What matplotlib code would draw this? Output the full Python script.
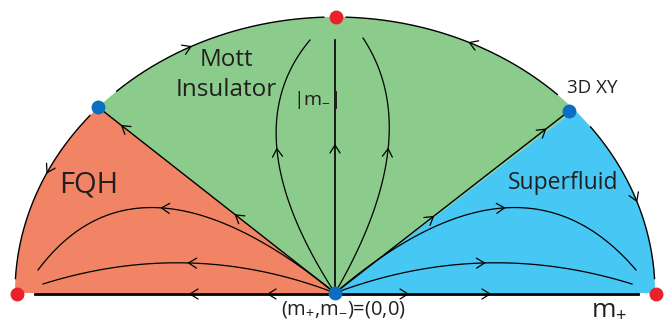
import numpy as np
import matplotlib.pyplot as plt

# geometry of the flow diagram (pixel-like units, y grows downward)
origin = (335, 293)
semi_axes = (320, 276)
red_points = [(17, 294), (336, 17), (656, 294)]
blue_points = [(98, 107), (569, 111)]
blue_angles = [137.7, 41.5]          # ellipse angle of the two 3D XY points

# flow curves: (end point, peak point)
orange_flows = [((38, 270), (163, 208)), ((43, 284), (190, 263))]
blue_flows = [((636, 270), (503, 208)), ((632, 284), (483, 263))]
green_flows = [((310, 40), (277, 150)), ((363, 38), (388, 150))]

# boundary arcs: (start angle, end angle, arrow position along arc, flows toward start?)
arcs = [(177, 140, 0.62, True), (133, 92, 0.4, False), (88, 46, 0.55, True), (37, 3, 0.52, False)]

c_orange = '#F28466'
c_green = '#8BCB8B'
c_blue = '#46C7F4'
c_red = '#E8212B'
c_dot = '#0A6FC2'

cx, cy = origin
a, b = semi_axes


def ell(th):
    th = np.radians(th)
    return cx + a * np.cos(th), cy - b * np.sin(th)


def chevron(ax, x, y, dx, dy, size=8, half=5):
    n = np.hypot(dx, dy)
    dx, dy = dx / n, dy / n
    px, py = -dy, dx
    bx, by = x - dx * size, y - dy * size
    ax.plot([bx + px * half, x, bx - px * half], [by + py * half, y, by - py * half],
            color='black', lw=0.9, solid_capstyle='round')


def bezier(S, P, E, n=100):
    S, P, E = map(np.array, (S, P, E))
    C = 2 * P - (S + E) / 2
    t = np.linspace(0, 1, n)[:, None]
    return (1 - t) ** 2 * S + 2 * (1 - t) * t * C + t ** 2 * E


fig = plt.figure(figsize=(6.66, 3.24), dpi=100)
ax = fig.add_axes([0, 0, 1, 1])
ax.set_xlim(0, 666)
ax.set_ylim(324, 0)
ax.axis('off')


def region(t0, t1, color):
    th = np.linspace(t0, t1, 200)
    xs, ys = ell(th)
    ax.fill(np.r_[cx, xs], np.r_[cy, ys], color=color, lw=0)


region(blue_angles[0], 180, c_orange)
region(blue_angles[1], blue_angles[0], c_green)
region(0, blue_angles[1], c_blue)

# boundary arcs with arrows
for t0, t1, f, back in arcs:
    th = np.linspace(t0, t1, 150)
    xs, ys = ell(th)
    ax.plot(xs, ys, color='black', lw=1)
    m = int(f * (len(th) - 1))
    s = -1 if back else 1
    chevron(ax, xs[m], ys[m], xs[m + s] - xs[m], ys[m + s] - ys[m])

# straight separatrices
for (bx, by) in blue_points:
    ax.plot([cx, bx], [cy, by], color='black', lw=1)
    for f in (0.42, 0.9):
        chevron(ax, cx + f * (bx - cx), cy + f * (by - cy), bx - cx, by - cy)

# vertical axis
ax.plot([cx, cx], [cy, 40], color='black', lw=1.2)
chevron(ax, cx, 145, 0, -1)

# horizontal axis
ax.plot([35, 638], [cy + 1, cy + 1], color='black', lw=2)
for xa in (190, 268):
    chevron(ax, xa, cy + 1, -1, 0)
for xa in (408, 490):
    chevron(ax, xa, cy + 1, 1, 0)

# curved flows
for E, P in orange_flows + blue_flows + green_flows:
    pts = bezier(origin, P, E)
    ax.plot(pts[:, 0], pts[:, 1], color='black', lw=0.9)
    m = 50
    chevron(ax, pts[m, 0], pts[m, 1], pts[m + 1, 0] - pts[m, 0], pts[m + 1, 1] - pts[m, 1])

# fixed points
for x, y in red_points:
    ax.plot(x, y, 'o', color=c_red, ms=10, mec='none', clip_on=False)
for x, y in blue_points + [origin]:
    ax.plot(x, y, 'o', color=c_dot, ms=10, mec='none', clip_on=False)

font = ['Open Sans', 'DejaVu Sans']
tc = '#231F20'
ax.text(226, 60, 'Mott', ha='center', va='center', fontsize=17.5, family=font, color=tc)
ax.text(226, 90, 'Insulator', ha='center', va='center', fontsize=17.5, family=font, color=tc)
ax.text(89, 185, 'FQH', ha='center', va='center', fontsize=21, family=font, color=tc)
ax.text(316, 100, r'|m$_{\mathregular{-}}$|', ha='center', va='center', fontsize=14, family=font, color=tc)
ax.text(563, 183, 'Superfluid', ha='center', va='center', fontsize=16.5, family=font, color=tc)
ax.text(592, 88, '3D XY', ha='center', va='center', fontsize=13.5, family=font, color=tc)
ax.text(343, 310, r'(m$_{\mathregular{+}}$,m$_{\mathregular{-}}$)=(0,0)', ha='center', va='center',
        fontsize=14.5, family=font, color=tc)
ax.text(609, 309, r'm$_{\mathregular{+}}$', ha='center', va='center', fontsize=19, family=font, color=tc)

fig.savefig('out.png', dpi=100)
